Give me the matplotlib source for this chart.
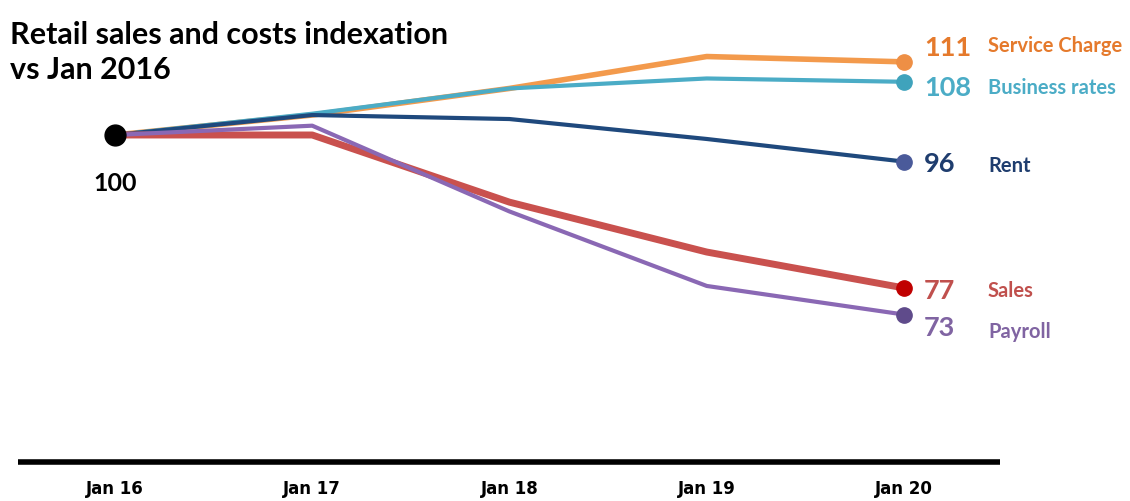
import matplotlib.pyplot as plt
import numpy as np

# index values, Jan 2016 = 100
months = ['Jan 16', 'Jan 17', 'Jan 18', 'Jan 19', 'Jan 20']
service_charge = [100, 103.0, 107.0, 111.8, 111]
business_rates = [100, 103.2, 107.0, 108.5, 108]
rent = [100, 103.0, 102.4, 99.4, 96]
sales = [100, 100.0, 89.9, 82.4, 77]
payroll = [100, 101.4, 88.5, 77.3, 73]

series = [
    # name, values, line colour, dot colour, text colour, width, (value dy, name dy) px
    ('Service Charge', service_charge, '#F39A4C', '#EE8F45', '#E57A2C', 4.0, (-15, -17)),
    ('Business rates', business_rates, '#4BACC6', '#3FA3BC', '#4BACC6', 3.0, (5, 5)),
    ('Rent', rent, '#1F497D', '#4A5A9A', '#1F3D6E', 3.0, (1, 3)),
    ('Sales', sales, '#C9514E', '#C00000', '#C0504D', 5.0, (2, 2)),
    ('Payroll', payroll, '#8A68B4', '#5F4B8B', '#8064A2', 3.0, (12, 16)),
]

plt.rcParams['font.family'] = ['Lato', 'DejaVu Sans']

fig = plt.figure(figsize=(11.3, 5.02), dpi=100)
ax = fig.add_axes([0, 0, 1, 1])
ax.set_xlim(-0.583, 5.146)
ax.set_ylim(44.96, 120.45)
ax.axis('off')

x = np.arange(len(months))

for name, vals, lc, dc, tc, lw, (dv, dn) in series:
    ax.plot(x, vals, color=lc, lw=lw, solid_capstyle='round', solid_joinstyle='round', zorder=2)
    ax.plot(x[-1], vals[-1], 'o', color=dc, ms=11, zorder=3)
    ax.annotate(f'{vals[-1]:.0f}', (x[-1], vals[-1]), xytext=(20, -dv),
                textcoords='offset pixels', ha='left', va='center',
                fontsize=19.5, fontweight='bold', color=tc)
    ax.annotate(name, (x[-1], vals[-1]), xytext=(84, -dn),
                textcoords='offset pixels', ha='left', va='center',
                fontsize=14.5, fontweight='bold', color=tc)

# common starting point
ax.plot(x[0], service_charge[0], 'o', color='black', ms=15, zorder=4)
ax.annotate('100', (x[0], service_charge[0]), xytext=(0, -48),
            textcoords='offset pixels', ha='center', va='center',
            fontsize=18, fontweight='bold', color='black')

# baseline and month labels
ax.plot([-0.49, 4.487], [50.8, 50.8], color='black', lw=4, solid_capstyle='butt')
for xi, m in zip(x, months):
    ax.text(xi, 46.85, m, ha='center', va='center', fontsize=12,
            fontweight='bold', family=['Liberation Sans Narrow', 'DejaVu Sans'])

fig.text(0.009, 0.958, 'Retail sales and costs indexation\nvs Jan 2016',
         ha='left', va='top', fontsize=22, fontweight='bold', linespacing=1.3)

plt.savefig('out.png', dpi=100)
